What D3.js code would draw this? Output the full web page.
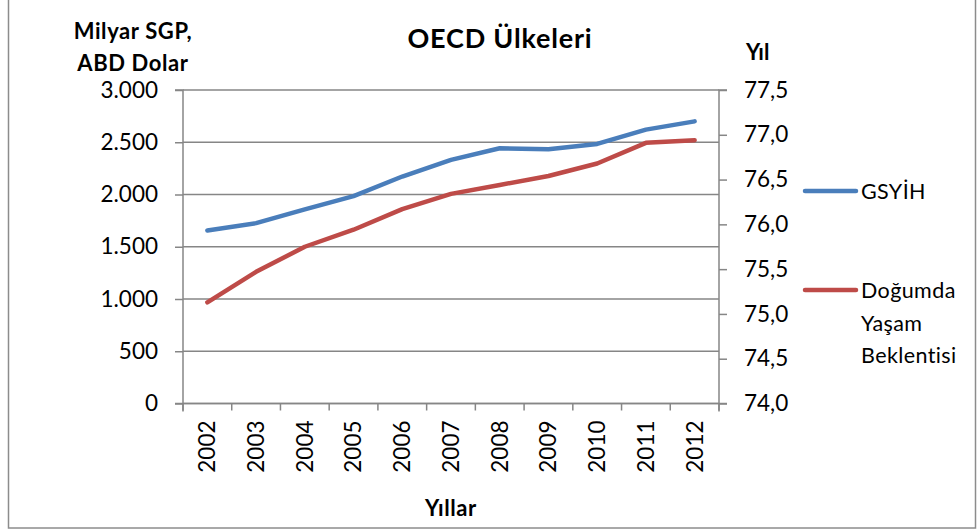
<!DOCTYPE html>
<html>
<head>
<meta charset="utf-8">
<script src="https://cdn.jsdelivr.net/npm/d3@7"></script>
<style>
  body { margin: 0; background: #fff; }
  svg { display: block; font-family: Lato, "Open Sans", sans-serif; }
</style>
</head>
<body>
<svg id="chart" width="979" height="530"></svg>
<script>
// data
const years = ['2002', '2003', '2004', '2005', '2006', '2007', '2008', '2009', '2010', '2011', '2012'];
const gdp = [1656, 1726, 1857, 1984, 2172, 2331, 2443, 2433, 2484, 2621, 2700];
const lifeExp = [75.13, 75.47, 75.75, 75.94, 76.17, 76.34, 76.44, 76.54, 76.68, 76.91, 76.94];
const leftTicks = [0, 500, 1000, 1500, 2000, 2500, 3000];
const rightTicks = [74.0, 74.5, 75.0, 75.5, 76.0, 76.5, 77.0, 77.5];

const svg = d3.select('#chart');
const plot = { left: 183, right: 719, top: 90, bottom: 403.5 };
const gridColor = '#868686';
const blue = '#4a7ebb', red = '#be4b48';

// outer frame
svg.append('rect')
    .attr('x', 8.5).attr('y', -2)
    .attr('width', 967).attr('height', 530)
    .attr('fill', 'none').attr('stroke', '#8c8c8c').attr('stroke-width', 1.5);

const x = d3.scaleBand().domain(years).range([plot.left, plot.right]);
const yL = d3.scaleLinear().domain([0, 3000]).range([plot.bottom, plot.top]);
const yR = d3.scaleLinear().domain([74, 77.5]).range([plot.bottom, plot.top]);

const fmtL = d => d3.format(',')(d).replace(/,/g, '.');
const fmtR = d => d3.format('.1f')(d).replace('.', ',');

// gridlines
svg.append('g')
    .selectAll('line')
    .data(leftTicks)
    .join('line')
    .attr('x1', plot.left).attr('x2', plot.right)
    .attr('y1', d => yL(d)).attr('y2', d => yL(d))
    .attr('stroke', gridColor).attr('stroke-width', 1.5);

// left axis
const axL = svg.append('g')
    .attr('transform', `translate(${plot.left},0)`)
    .call(d3.axisLeft(yL).tickValues(leftTicks).tickFormat(fmtL).tickSize(8).tickPadding(17));
// right axis
const axR = svg.append('g')
    .attr('transform', `translate(${plot.right},0)`)
    .call(d3.axisRight(yR).tickValues(rightTicks).tickFormat(fmtR).tickSize(8).tickPadding(17));
// bottom axis
const axB = svg.append('g')
    .attr('transform', `translate(0,${plot.bottom})`)
    .call(d3.axisBottom(x).tickSize(0).tickFormat(d => d));

axB.selectAll('.tick line').remove();
axB.select('.domain').remove();
axB.append('line')
    .attr('x1', plot.left - 8).attr('x2', plot.right + 8)
    .attr('stroke', gridColor).attr('stroke-width', 1.5);
axB.selectAll('.bandtick')
    .data(years.concat(['end']))
    .join('line')
    .attr('x1', (d, i) => plot.left + i * x.step())
    .attr('x2', (d, i) => plot.left + i * x.step())
    .attr('y1', 0).attr('y2', 7)
    .attr('stroke', gridColor).attr('stroke-width', 1.5);
axB.selectAll('.tick text')
    .attr('transform', 'rotate(-90)')
    .attr('text-anchor', 'end')
    .attr('x', -17).attr('y', 0).attr('dy', '0.35em');

[axL, axR].forEach(ax => {
    ax.select('.domain').attr('stroke', gridColor).attr('stroke-width', 1.5)
        .attr('d', `M${ax === axL ? -8 : 8},${plot.top}H0V${plot.bottom + 8}`);
    ax.selectAll('.tick line').attr('stroke', gridColor).attr('stroke-width', 1.5);
});
svg.selectAll('.tick text').attr('font-size', 22.5).attr('fill', '#000').attr('font-family', 'Lato, sans-serif');

// lines
const lineL = d3.line().x((d, i) => x(years[i]) + x.bandwidth() / 2).y(d => yL(d));
const lineR = d3.line().x((d, i) => x(years[i]) + x.bandwidth() / 2).y(d => yR(d));

svg.append('path').datum(lifeExp)
    .attr('d', lineR).attr('fill', 'none')
    .attr('stroke', red).attr('stroke-width', 4.5).attr('stroke-linecap', 'round').attr('stroke-linejoin', 'round');
svg.append('path').datum(gdp)
    .attr('d', lineL).attr('fill', 'none')
    .attr('stroke', blue).attr('stroke-width', 4.5).attr('stroke-linecap', 'round').attr('stroke-linejoin', 'round');

// titles
svg.append('text').attr('x', 500).attr('y', 48).attr('text-anchor', 'middle')
    .attr('font-size', 27).attr('letter-spacing', 0.8).attr('font-weight', 'bold').text('OECD Ülkeleri');
svg.append('text').attr('x', 133).attr('y', 39).attr('text-anchor', 'middle')
    .attr('font-size', 22).attr('letter-spacing', 0.6).attr('font-weight', 'bold').text('Milyar SGP,');
svg.append('text').attr('x', 133).attr('y', 71).attr('text-anchor', 'middle')
    .attr('font-size', 22).attr('letter-spacing', 0.6).attr('font-weight', 'bold').text('ABD Dolar');
svg.append('text').attr('x', 746).attr('y', 60)
    .attr('font-size', 22).attr('font-weight', 'bold').text('Yıl');
svg.append('text').attr('x', 451).attr('y', 516).attr('text-anchor', 'middle')
    .attr('font-size', 22).attr('letter-spacing', 0.6).attr('font-weight', 'bold').text('Yıllar');

// legend
const legendNames = [['GSYİH'], ['Doğumda', 'Yaşam', 'Beklentisi']];
const legendColors = [blue, red];
const legendY = [191, 290];
const lg = svg.append('g');
legendNames.forEach((lines, i) => {
    lg.append('line')
        .attr('x1', 805).attr('x2', 856)
        .attr('y1', legendY[i]).attr('y2', legendY[i])
        .attr('stroke', legendColors[i]).attr('stroke-width', 4.5).attr('stroke-linecap', 'round');
    lines.forEach((t, j) => {
        lg.append('text').attr('x', 861).attr('y', legendY[i] + 8 + j * 32.5)
            .attr('font-size', 21.5).attr('letter-spacing', 0.4).text(t);
    });
});
</script>
</body>
</html>
